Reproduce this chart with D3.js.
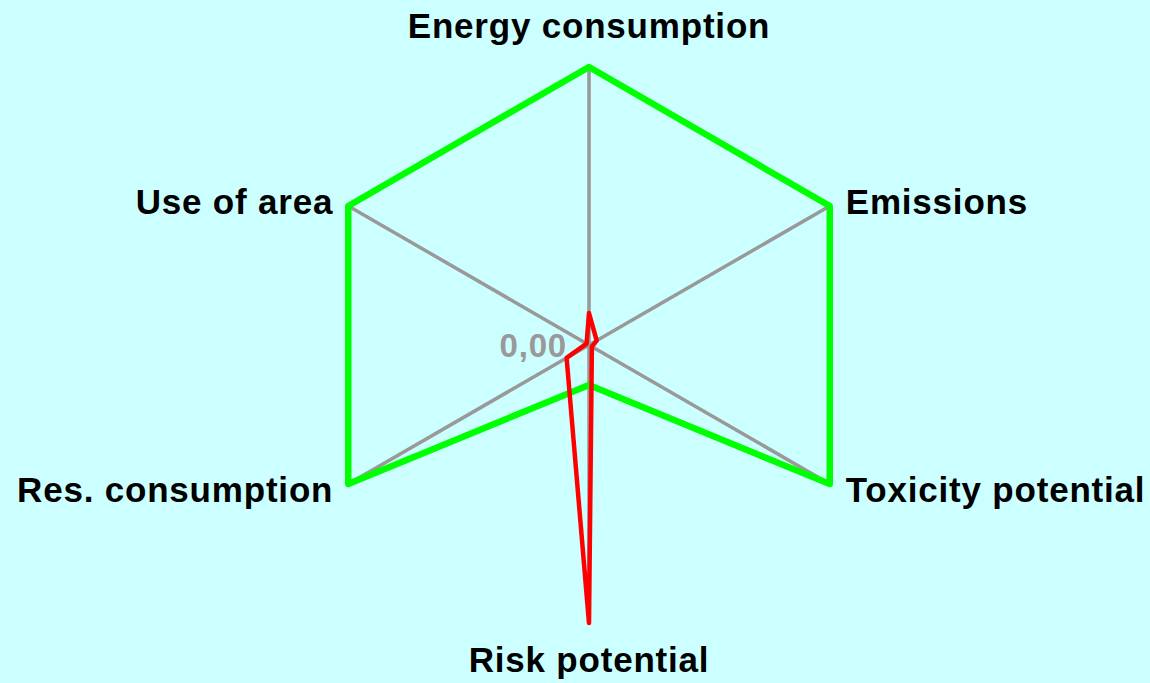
<!DOCTYPE html>
<html>
<head>
<meta charset="utf-8">
<script src="https://cdn.jsdelivr.net/npm/d3@7"></script>
<style>
  html, body { margin: 0; padding: 0; background: #ccffff; }
  svg { display: block; }
</style>
</head>
<body>
<svg id="chart" width="1150" height="683"></svg>
<script>
// axes, clockwise from top
var categories = ["Energy consumption", "Emissions", "Toxicity potential", "Risk potential", "Res. consumption", "Use of area"];
var greenValues = [1, 1, 1, 0.144, 1, 1];
var redValues = [0.115, 0.032, 0.012, 1, 0.093, 0.01];
var centerLabel = "0,00";

var width = 1150, height = 683;
var cx = 589, cy = 345, radius = 278;

var svg = d3.select("#chart");
svg.append("rect").attr("width", width).attr("height", height).style("fill", "#ccffff");

var g = svg.append("g").attr("transform", "translate(" + cx + "," + cy + ")");

var r = d3.scaleLinear().domain([0, 1]).range([0, radius]);
var angle = d3.scaleLinear().domain([0, categories.length]).range([0, 2 * Math.PI]);

function pt(i, v) {
  var a = angle(i);
  return [Math.sin(a) * r(v), -Math.cos(a) * r(v)];
}

// spokes
g.selectAll(".spoke")
  .data(categories)
  .enter().append("line")
    .attr("class", "spoke")
    .attr("x1", 0).attr("y1", 0)
    .attr("x2", function(d, i) { return pt(i, 1)[0]; })
    .attr("y2", function(d, i) { return pt(i, 1)[1]; })
    .style("stroke", "#999999")
    .style("stroke-width", 3.5);

g.append("text")
  .attr("x", -22)
  .attr("y", 12)
  .attr("text-anchor", "end")
  .style("font-family", "'Liberation Sans', Arial, sans-serif")
  .style("font-weight", "bold")
  .style("font-size", "33px")
  .style("letter-spacing", "0.8px")
  .style("fill", "#999999")
  .text(centerLabel);

var line = d3.lineRadial()
  .angle(function(d, i) { return angle(i); })
  .radius(function(d) { return r(d); })
  .curve(d3.curveLinearClosed);

g.append("path")
  .datum(greenValues)
  .attr("d", line)
  .style("fill", "none")
  .style("stroke", "#00ff00")
  .style("stroke-width", 6.5)
  .style("stroke-linejoin", "round");

g.append("path")
  .datum(redValues)
  .attr("d", line)
  .style("fill", "none")
  .style("stroke", "#ff0000")
  .style("stroke-width", 4.5)
  .style("stroke-linejoin", "round");

// axis labels
g.selectAll(".label")
  .data(categories)
  .enter().append("text")
    .attr("class", "label")
    .attr("x", function(d, i) {
      var p = pt(i, 1);
      if (Math.abs(p[0]) < 1) return p[0];
      return p[0] > 0 ? p[0] + 16 : p[0] - 15;
    })
    .attr("y", function(d, i) {
      var p = pt(i, 1);
      if (Math.abs(p[0]) < 1) return p[1] < 0 ? p[1] - 29 : p[1] + 49;
      return p[1] < 0 ? p[1] + 8 : p[1] + 18;
    })
    .attr("text-anchor", function(d, i) {
      var p = pt(i, 1);
      if (Math.abs(p[0]) < 1) return "middle";
      return p[0] > 0 ? "start" : "end";
    })
    .style("font-family", "'Liberation Sans', Arial, sans-serif")
    .style("font-weight", "bold")
    .style("font-size", "35px")
    .style("letter-spacing", "0.8px")
    .style("fill", "#000000")
    .text(function(d) { return d; });
</script>
</body>
</html>
